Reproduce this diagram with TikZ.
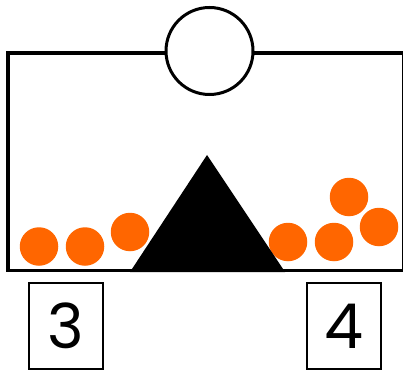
\documentclass[tikz,border=0pt]{standalone}
\usepackage{fontspec}
\setmainfont{Poppins}
\definecolor{ball}{RGB}{255,102,0}
\begin{document}
\begin{tikzpicture}[x=1pt,y=-1pt,
  ballnode/.style={circle,fill=ball,inner sep=0pt,minimum size=38.5pt},
  numbox/.style={draw,line width=2pt,inner sep=0pt,minimum width=74pt,minimum height=86pt,font=\fontsize{62}{62}\selectfont},
]
\useasboundingbox (0,0) rectangle (403,371);
\draw[line width=3.5pt] (8,270.5) -- (8,53) -- (403.5,53) -- (403.5,270.5) -- cycle;
\node[circle,draw,line width=3pt,fill=white,minimum size=87pt,inner sep=0pt] (meter) at (209.5,51) {};
\foreach \n/\x/\y in {b1/39/246.5,b2/85/246.5,b3/130/232,b4/288/242,b5/334/242,b6/349/197,b7/379/227}
  \node[ballnode] (\n) at (\x,\y) {};
\fill (207,155) coordinate (apex) -- (285,272) coordinate (br) -- (130,272) coordinate (bl) -- cycle;
\node[numbox] (n3) at (66,326) {3};
\node[numbox] (n4) at (343.5,326) {4};
\end{tikzpicture}
\end{document}
